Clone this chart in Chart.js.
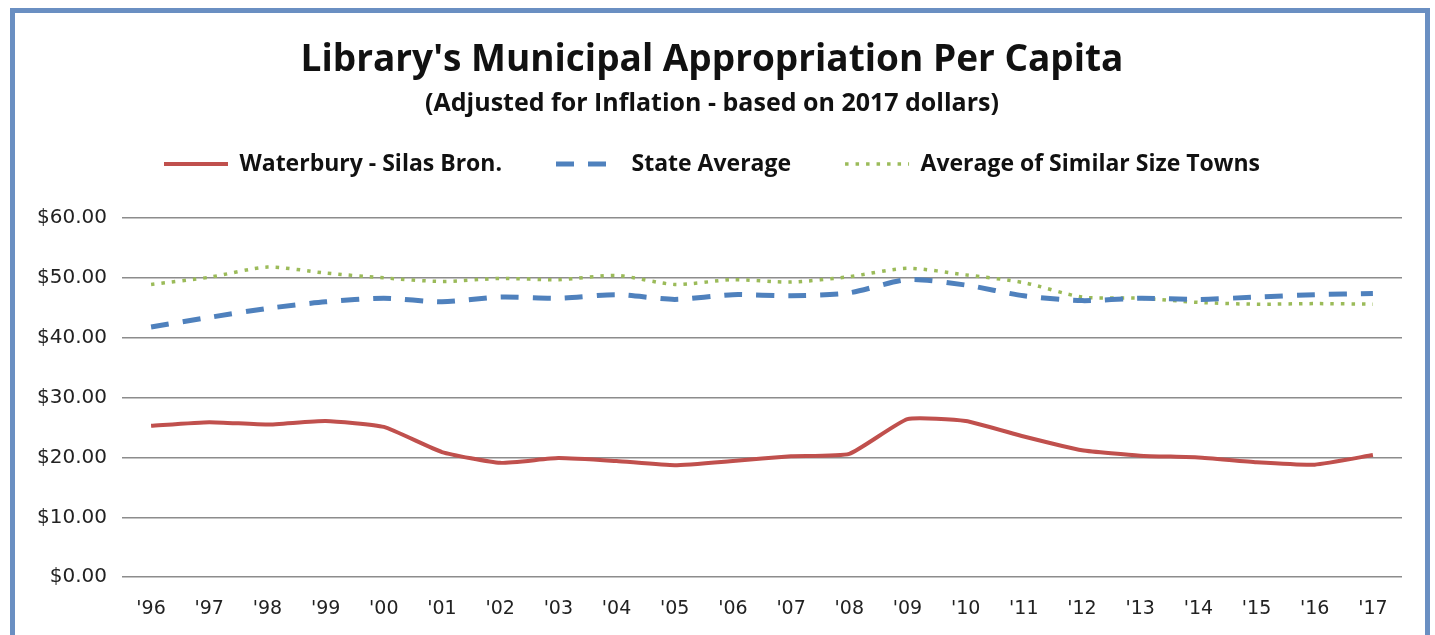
<!DOCTYPE html>
<html>
<head>
<meta charset="utf-8">
<script src="https://cdn.jsdelivr.net/npm/chart.js@4.4.0/dist/chart.umd.min.js"></script>
<style>
  html, body { margin: 0; padding: 0; background: #fff; overflow: hidden; }
  #frame { position: absolute; left: 10px; top: 8px; width: 1410px; height: 700px; border: 5px solid #6a8fc2; background: #fff; }
  #myChart { position: absolute; left: 0; top: 0; }
</style>
</head>
<body>
<div id="frame"></div>
<canvas id="myChart" width="1435" height="635"></canvas>
<script>
const years = ["'96", "'97", "'98", "'99", "'00", "'01", "'02", "'03", "'04", "'05", "'06",
  "'07", "'08", "'09", "'10", "'11", "'12", "'13", "'14", "'15", "'16", "'17"];
const waterbury = [25.3, 25.9, 25.5, 26.1, 25.1, 20.9, 19.1, 19.9, 19.4, 18.7, 19.4,
  20.2, 20.6, 26.4, 26.1, 23.5, 21.2, 20.3, 20.0, 19.2, 18.8, 20.4];
const stateAvg = [41.8, 43.4, 44.9, 46.0, 46.6, 46.0, 46.8, 46.6, 47.2, 46.4, 47.2,
  47.0, 47.5, 49.7, 48.8, 47.0, 46.2, 46.6, 46.4, 46.8, 47.2, 47.4];
const similarTowns = [48.9, 50.1, 51.8, 50.8, 50.0, 49.4, 49.9, 49.7, 50.4, 48.9, 49.7,
  49.3, 50.2, 51.6, 50.5, 49.2, 46.8, 46.6, 45.9, 45.6, 45.7, 45.6];
const yTicks = [0, 10, 20, 30, 40, 50, 60];

// legend spacing trick: add room under the legend
const legendSpace = {
  id: 'legendSpace',
  beforeInit(chart) {
    const origFit = chart.legend.fit;
    chart.legend.fit = function fit() {
      origFit.bind(chart.legend)();
      this.height += 32.5;
    };
  }
};

const ctx = document.getElementById("myChart");
new Chart(ctx, {
  type: "line",
  data: {
    labels: years,
    datasets: [
      {
        label: "Waterbury - Silas Bron.",
        data: waterbury,
        borderColor: "#c0504d",
        backgroundColor: "#c0504d",
        borderWidth: 4,
        tension: 0.15
      },
      {
        label: "State Average",
        data: stateAvg,
        borderColor: "#4f81bd",
        backgroundColor: "#4f81bd",
        borderWidth: 5,
        borderDash: [18, 14],
        tension: 0.25
      },
      {
        label: "Average of Similar Size Towns",
        data: similarTowns,
        borderColor: "#9bbb59",
        backgroundColor: "#9bbb59",
        borderWidth: 3.5,
        borderDash: [3.5, 7],
        tension: 0.25
      }
    ]
  },
  options: {
    responsive: false,
    animation: false,
    elements: { point: { radius: 0 } },
    layout: { padding: { left: 22, right: 33, bottom: -5, top: 0 } },
    plugins: {
      title: {
        display: true,
        text: "Library's Municipal Appropriation Per Capita",
        color: "#111",
        font: { family: "Open Sans", size: 37, weight: "bold", lineHeight: 1.2 },
        padding: { top: 37.8, bottom: 0 }
      },
      subtitle: {
        display: true,
        text: "(Adjusted for Inflation - based on 2017 dollars)",
        color: "#111",
        font: { family: "Open Sans", size: 25, weight: "bold", lineHeight: 1.2 },
        padding: { top: 6.8, bottom: -20.5 }
      },
      legend: {
        display: true,
        labels: {
          usePointStyle: true,
          pointStyle: "line",
          pointStyleWidth: 64,
          padding: 54,
          color: "#111",
          font: { family: "Open Sans", size: 23, weight: "bold" },
          generateLabels(chart) {
            const items = Chart.defaults.plugins.legend.labels.generateLabels(chart);
            return items.map(item => {
              const ds = chart.data.datasets[item.datasetIndex];
              item.lineWidth = ds.borderWidth;
              item.lineDash = ds.borderDash || [];
              item.strokeStyle = ds.borderColor;
              return item;
            });
          }
        }
      },
      tooltip: { enabled: false }
    },
    scales: {
      x: {
        offset: true,
        grid: { display: false, drawTicks: false },
        border: { display: false },
        ticks: { color: "#222", padding: 20, font: { family: "DejaVu Sans", size: 19 } }
      },
      y: {
        min: 0,
        max: 60,
        afterBuildTicks(scale) { scale.ticks = yTicks.map(v => ({ value: v })); },
        grid: { color: "#8c8c8c", lineWidth: 1.5, drawTicks: false },
        border: { display: false },
        ticks: {
          color: "#222",
          padding: 15,
          font: { family: "DejaVu Sans", size: 20 },
          callback: v => "$" + v.toFixed(2)
        }
      }
    }
  },
  plugins: [legendSpace]
});
</script>
</body>
</html>
